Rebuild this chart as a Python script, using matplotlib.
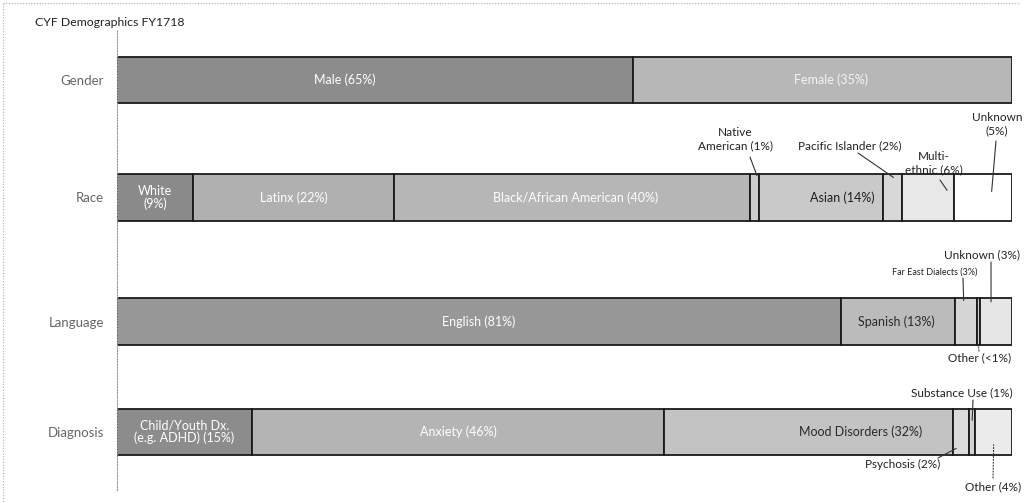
import matplotlib
matplotlib.use('Agg')
import matplotlib.pyplot as plt
from matplotlib.lines import Line2D

W, H = 1026, 503

# ---------------- data ----------------
title = 'CYF Demographics FY1718'
categories = ['Gender', 'Race', 'Language', 'Diagnosis']

gender_labels = ['Male (65%)', 'Female (35%)']
gender_values = [57.7, 42.3]

race_labels = ['White\n(9%)', 'Latinx (22%)', 'Black/African American (40%)',
               'Native\nAmerican (1%)', 'Asian (14%)', 'Pacific Islander (2%)',
               'Multi-\nethnic (6%)', 'Unknown\n(5%)']
race_values = [8.5, 22.5, 39.7, 1.0, 13.9, 2.1, 5.8, 6.5]

language_labels = ['English (81%)', 'Spanish (13%)', 'Far East Dialects (3%)',
                   'Other (<1%)', 'Unknown (3%)']
language_values = [80.9, 12.7, 2.5, 0.3, 3.6]

diagnosis_labels = ['Child/Youth Dx.\n(e.g. ADHD) (15%)', 'Anxiety (46%)',
                    'Mood Disorders (32%)', 'Psychosis (2%)',
                    'Substance Use (1%)', 'Other (4%)']
diagnosis_values = [15.1, 46.0, 32.3, 1.8, 0.7, 4.1]

# ---------------- styles ----------------
gender_colors = ['#8c8c8c', '#b7b7b7']
race_colors = ['#8a8a8a', '#b0b0b0', '#b6b6b6', '#cdcdcd', '#c9c9c9', '#d8d8d8', '#e8e8e8', '#ffffff']
language_colors = ['#979797', '#bbbbbb', '#d6d6d6', '#cfcfcf', '#e6e6e6']
diagnosis_colors = ['#8c8c8c', '#b4b4b4', '#c3c3c3', '#dcdcdc', '#d2d2d2', '#ebebeb']

FONT = ['Lato', 'DejaVu Sans']
plt.rcParams['font.family'] = FONT

rows = [
    (gender_labels, gender_values, gender_colors),
    (race_labels, race_values, race_colors),
    (language_labels, language_values, language_colors),
    (diagnosis_labels, diagnosis_values, diagnosis_colors),
]
row_pos = [0.0, 1.0, 2.06, 3.0]
bar_h = 0.40

# inside labels: (row, segment) -> (x offset in data units, text colour)
inside = {
    (0, 0): (-3.4, 'white'), (0, 1): (0.9, '#f4f4f4'),
    (1, 0): (0, 'white'), (1, 1): (0, 'white'), (1, 2): (0.4, 'white'),
    (1, 4): (2.4, '#1e1e1e'),
    (2, 0): (0, 'white'), (2, 1): (-0.2, '#2a2a2a'),
    (3, 0): (0, 'white'), (3, 1): (0, 'white'), (3, 2): (5.8, '#2a2a2a'),
}

# outside labels: (row, seg, frac along seg, y_rel, text px, line start px, fontsize, linestyle)
outside = [
    (1, 3, 0.8, -0.92, (735, 139), (750, 157), 8.5, '-'),
    (1, 5, 0.55, -0.85, (850, 146), (858, 153), 8.5, '-'),
    (1, 6, 0.87, -0.30, (934, 163), (940, 180), 8.5, '-'),
    (1, 7, 0.65, -0.25, (997, 124), (996, 141), 8.5, '-'),
    (2, 2, 0.40, -0.90, (935, 272), (963, 278), 6.5, '-'),
    (2, 4, 0.35, -0.85, (982, 255), (991, 262), 8.5, '-'),
    (2, 3, 0.50, 1.00, (980, 358), (979, 351), 8.5, ':'),
    (3, 4, 0.50, -0.50, (962, 393), (973, 400), 8.5, '-'),
    (3, 3, 0.20, 0.70, (903, 464), (938, 458), 8.5, '-'),
    (3, 5, 0.50, 0.55, (993, 487), (993, 478), 8.5, ':'),
]

fig = plt.figure(figsize=(W / 100, H / 100), dpi=100)
fig.patch.set_facecolor('white')

ax_left, ax_right = 117, 1012
ax_top, ax_bot = 30, 490
ax = fig.add_axes([ax_left / W, 1 - ax_bot / H, (ax_right - ax_left) / W, (ax_bot - ax_top) / H])
unit = (432 - 80) / 3.0
ax.set_xlim(0, 100)
ax.set_ylim((ax_bot - 80) / unit, (ax_top - 80) / unit)

lefts_all = []
for r, (labels, values, colors) in enumerate(rows):
    left = 0.0
    lefts = []
    for s, (lab, v, c) in enumerate(zip(labels, values, colors)):
        ax.barh(row_pos[r], v, left=left, height=bar_h, color=c,
                edgecolor='#1a1a1a', linewidth=1.3)
        lefts.append(left)
        if (r, s) in inside:
            dx, tc = inside[(r, s)]
            ax.text(left + v / 2 + dx, row_pos[r], lab, ha='center', va='center',
                    fontsize=9, color=tc, linespacing=1.0)
        left += v
    lefts_all.append(lefts)

for (r, s, frac, yrel, tpos, spos, fs, ls) in outside:
    labels, values, _ = rows[r]
    tx = lefts_all[r][s] + frac * values[s]
    ty = row_pos[r] + yrel * bar_h / 2
    fig.text(tpos[0] / W, 1 - tpos[1] / H, labels[s], ha='center', va='center',
             fontsize=fs, color='#222222', linespacing=1.3)
    ax.annotate('', xy=(tx, ty), xycoords='data',
                xytext=(spos[0], H - spos[1]), textcoords='figure pixels',
                arrowprops=dict(arrowstyle='-', lw=0.8, color='#333333',
                                linestyle=ls, shrinkA=0, shrinkB=0))

ax.set_yticks(row_pos)
ax.set_yticklabels(categories, fontsize=9.5, color='#666666')
ax.tick_params(axis='y', length=0, pad=9.4)
ax.set_xticks([])
for sp in ['top', 'right', 'bottom']:
    ax.spines[sp].set_visible(False)
ax.spines['left'].set_linestyle((0, (1, 1.5)))
ax.spines['left'].set_color('#999999')
ax.spines['left'].set_linewidth(0.8)
ax.patch.set_alpha(0)

fig.text(35 / W, 1 - 22 / H, title, ha='left', va='center', fontsize=8.8, color='#222222')

# dotted frame of the scanned page
fig.add_artist(Line2D([3 / W, 1020 / W], [1 - 3 / H, 1 - 3 / H], transform=fig.transFigure,
                      color='#aaaaaa', lw=0.8, linestyle=(0, (1, 1.5))))
fig.add_artist(Line2D([3 / W, 3 / W], [1 - 3 / H, 0], transform=fig.transFigure,
                      color='#aaaaaa', lw=0.8, linestyle=(0, (1, 1.5))))

fig.savefig('out.png', dpi=100, facecolor='white')
